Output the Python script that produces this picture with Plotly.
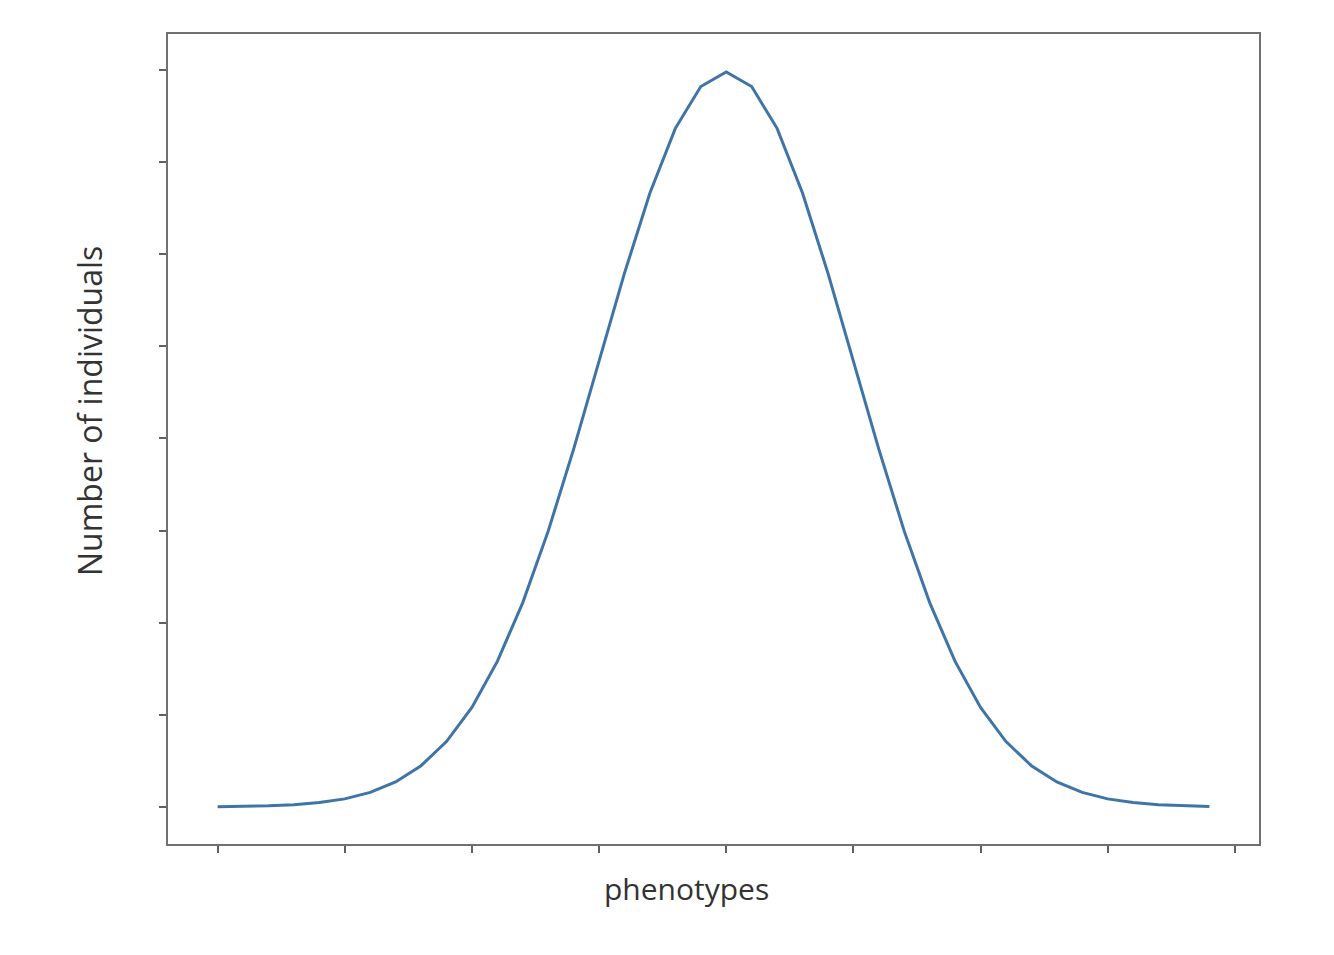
import plotly.graph_objects as go

# phenotype values (x) and number of individuals (y)
phenotype = [-4.0, -3.8, -3.6, -3.4, -3.2, -3.0, -2.8, -2.6, -2.4, -2.2,
             -2.0, -1.8, -1.6, -1.4, -1.2, -1.0, -0.8, -0.6, -0.4, -0.2,
             0.0, 0.2, 0.4, 0.6, 0.8, 1.0, 1.2, 1.4, 1.6, 1.8,
             2.0, 2.2, 2.4, 2.6, 2.8, 3.0, 3.2, 3.4, 3.6, 3.8]
individuals = [0.0001, 0.0003, 0.0006, 0.0012, 0.0024, 0.0044, 0.0079, 0.0136, 0.0224, 0.0355,
               0.0540, 0.0790, 0.1109, 0.1497, 0.1942, 0.2420, 0.2897, 0.3332, 0.3683, 0.3910,
               0.3989, 0.3910, 0.3683, 0.3332, 0.2897, 0.2420, 0.1942, 0.1497, 0.1109, 0.0790,
               0.0540, 0.0355, 0.0224, 0.0136, 0.0079, 0.0044, 0.0024, 0.0012, 0.0006, 0.0003]

x_ticks = [-4, -3, -2, -1, 0, 1, 2, 3, 4]
y_ticks = [0.0, 0.05, 0.10, 0.15, 0.20, 0.25, 0.30, 0.35, 0.40]

fig = go.Figure(go.Scatter(
    x=phenotype, y=individuals, mode='lines',
    line={'color': '#3f74a6', 'width': 3},
))

axis_style = dict(
    showgrid=False, zeroline=False, showticklabels=False,
    showline=True, mirror=True, linecolor='#707070', linewidth=2,
    ticks='outside', ticklen=7, tickwidth=2, tickcolor='#606060',
)

# the page adds ~8px of body margin, so the margins are shifted by that
fig.update_layout(
    width=1334, height=955,
    plot_bgcolor='white', paper_bgcolor='white',
    margin=dict(l=160, r=83, t=26, b=119),
    showlegend=False,
    xaxis=dict(range=[-4.39, 4.19], tickvals=x_ticks, **axis_style),
    yaxis=dict(range=[-0.0201, 0.4195], tickvals=y_ticks, **axis_style),
    font={'family': 'Open Sans', 'color': '#333333'},
    annotations=[
        dict(text='phenotypes', xref='paper', yref='paper',
             x=(685 - 167) / 1091, y=-44 / 810, xanchor='center', yanchor='middle',
             showarrow=False, font={'size': 30}),
        dict(text='Number of individuals', xref='paper', yref='paper',
             x=-79 / 1091, y=(843 - 410) / 810, xanchor='center', yanchor='middle',
             textangle=-90, showarrow=False, font={'size': 32}),
    ],
)

fig.write_html("out.html")
